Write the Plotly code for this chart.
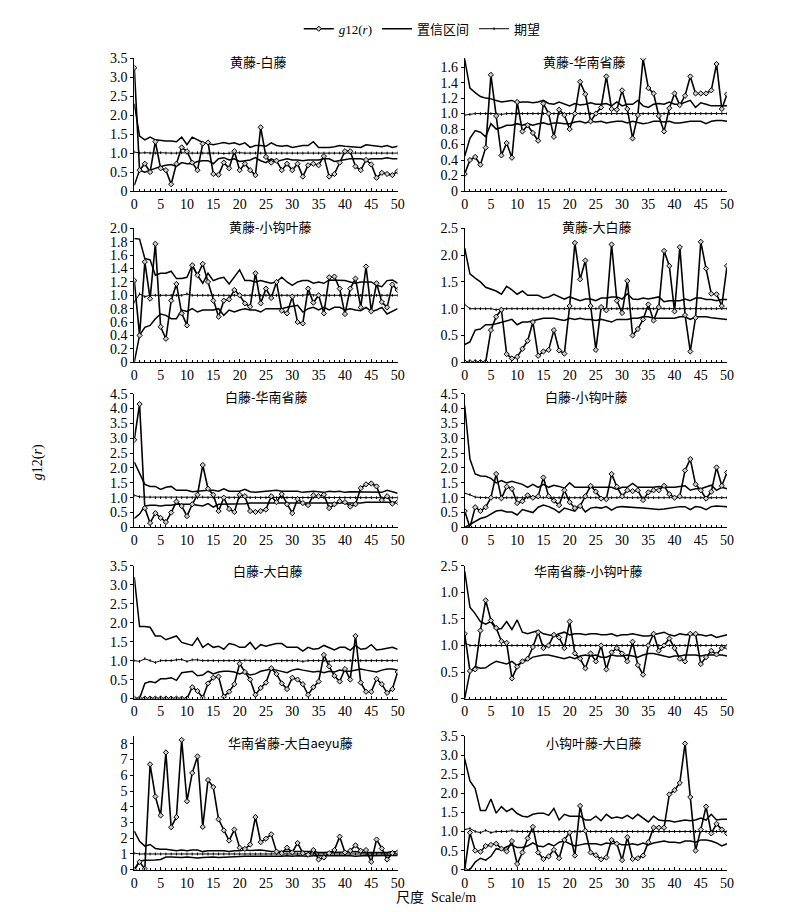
import plotly.graph_objects as go

# ---------------- data ----------------
SCALE_R = [0, 1, 2, 3, 4, 5, 6, 7, 8, 9, 10, 11, 12, 13, 14, 15, 16, 17, 18, 19, 20,
           21, 22, 23, 24, 25, 26, 27, 28, 29, 30, 31, 32, 33, 34, 35, 36, 37, 38, 39, 40,
           41, 42, 43, 44, 45, 46, 47, 48, 49, 50]
X_TICKS = [0, 5, 10, 15, 20, 25, 30, 35, 40, 45, 50]

TITLES = ["黄藤-白藤", "黄藤-华南省藤", "黄藤-小钩叶藤", "黄藤-大白藤", "白藤-华南省藤",
          "白藤-小钩叶藤", "白藤-大白藤", "华南省藤-小钩叶藤", "华南省藤-大白aeyu藤", "小钩叶藤-大白藤"]

# 1 黄藤-白藤
g_1 = [3.25, 0.55, 0.72, 0.5, 1.3, 0.6, 0.55, 0.18, 0.72, 1.15,
       1.05, 0.75, 0.55, 1.25, 1.28, 0.45, 0.43, 0.75, 0.6, 1.05,
       0.55, 0.72, 0.55, 0.42, 1.68, 0.9, 0.75, 0.8, 0.55, 0.72,
       0.55, 0.72, 0.38, 0.68, 0.72, 0.68, 0.92, 0.38, 0.45, 0.75,
       1.05, 1.05, 0.65, 0.55, 0.82, 0.7, 0.35, 0.48, 0.45, 0.42, 0.52]
up_1 = [2.3, 1.45, 1.35, 1.42, 1.35, 1.33, 1.32, 1.32, 1.3, 1.42,
        1.22, 1.42, 1.35, 1.28, 1.25, 1.22, 1.25, 1.28, 1.25, 1.27,
        1.22, 1.27, 1.15, 1.2, 1.2, 1.18, 1.27, 1.2, 1.18, 1.2,
        1.15, 1.17, 1.2, 1.2, 1.3, 1.15, 1.15, 1.15, 1.17, 1.2,
        1.18, 1.17, 1.15, 1.15, 1.22, 1.2, 1.18, 1.17, 1.2, 1.15, 1.18]
lo_1 = [0.15, 0.55, 0.5, 0.55, 0.62, 0.65, 0.68, 0.7, 0.65, 0.75,
        0.72, 0.72, 0.78, 0.8, 0.8, 0.72, 0.85, 0.88, 0.82, 0.85,
        0.78, 0.8, 0.82, 0.88, 0.8, 0.75, 0.85, 0.78, 0.82, 0.85,
        0.82, 0.82, 0.8, 0.82, 0.82, 0.82, 0.85, 0.85, 0.78, 0.8,
        0.82, 0.85, 0.85, 0.85, 0.82, 0.85, 0.85, 0.85, 0.88, 0.85, 0.85]
ex_1 = [1.03, 1.0, 1.01, 1.0, 1.0, 1.01, 1.0, 1.0, 1.0, 1.01,
        1.0, 1.0, 1.01, 1.0, 1.0, 1.0, 1.0, 0.99, 1.0, 1.0,
        1.01, 1.0, 1.0, 1.0, 1.0, 1.0, 1.01, 1.0, 1.0, 1.0,
        1.0, 1.0, 1.0, 1.01, 1.0, 1.0, 1.0, 1.0, 1.0, 1.0,
        1.0, 1.0, 1.01, 1.0, 1.0, 1.0, 1.0, 1.0, 1.0, 1.0, 1.0]

# 2 黄藤-华南省藤
g_2 = [0.22, 0.4, 0.44, 0.34, 0.56, 1.5, 0.97, 0.46, 0.62, 0.43,
       1.15, 0.77, 0.85, 0.75, 0.65, 1.13, 1.0, 0.7, 1.05, 0.98,
       0.8, 1.0, 1.41, 1.25, 0.9, 1.0, 1.08, 1.48, 1.06, 1.05,
       1.3, 1.06, 0.68, 0.98, 1.71, 1.33, 1.26, 0.97, 0.77, 1.07,
       1.26, 1.11, 1.23, 1.48, 1.26, 1.26, 1.26, 1.3, 1.64, 1.06, 1.25]
up_2 = [1.7, 1.33, 1.27, 1.22, 1.2, 1.19, 1.17, 1.15, 1.16, 1.17,
        1.14, 1.15, 1.15, 1.14, 1.15, 1.17, 1.13, 1.12, 1.15, 1.12,
        1.1, 1.13, 1.11, 1.12, 1.14, 1.12, 1.12, 1.13, 1.1, 1.15,
        1.1, 1.12, 1.12, 1.17, 1.1, 1.08, 1.12, 1.13, 1.12, 1.15,
        1.12, 1.12, 1.15, 1.17, 1.08, 1.14, 1.12, 1.1, 1.1, 1.1, 1.1]
lo_2 = [0.45, 0.68, 0.78, 0.76, 0.7, 0.87, 0.8, 0.82, 0.85, 0.85,
        0.87, 0.85, 0.87, 0.85, 0.87, 0.88, 0.86, 0.88, 0.88, 0.87,
        0.87, 0.89, 0.9, 0.88, 0.9, 0.89, 0.9, 0.88, 0.89, 0.9,
        0.9, 0.88, 0.9, 0.88, 0.87, 0.88, 0.9, 0.9, 0.89, 0.9,
        0.88, 0.88, 0.89, 0.9, 0.9, 0.9, 0.87, 0.9, 0.91, 0.91, 0.9]
ex_2 = [0.98, 0.99, 1.0, 1.0, 1.0, 1.0, 1.0, 0.99, 1.0, 1.0,
        1.0, 1.0, 1.0, 1.0, 1.0, 1.0, 1.0, 1.0, 1.0, 1.0,
        1.0, 1.0, 1.0, 1.0, 1.0, 1.0, 1.0, 1.0, 1.0, 1.0,
        1.0, 1.0, 1.0, 1.0, 1.0, 1.0, 1.0, 1.0, 1.0, 1.0,
        1.0, 1.0, 1.0, 1.0, 1.0, 1.0, 1.0, 1.0, 1.0, 1.0, 1.0]

# 3 黄藤-小钩叶藤
g_3 = [1.22, 0.4, 1.5, 0.95, 1.77, 0.53, 0.35, 0.92, 1.17, 0.73,
       0.55, 1.45, 1.3, 1.47, 1.2, 0.92, 0.68, 0.92, 0.94, 1.08,
       1.0, 0.88, 0.83, 1.33, 0.88, 1.1, 0.96, 1.2, 0.77, 0.73,
       0.98, 0.6, 0.58, 1.1, 0.89, 1.0, 0.73, 1.27, 1.28, 1.1,
       0.72, 1.1, 1.25, 0.82, 1.43, 0.76, 1.18, 0.9, 0.82, 1.16, 1.08]
up_3 = [1.85, 1.84, 1.55, 1.53, 1.3, 1.33, 1.33, 1.36, 1.25, 1.25,
        1.27, 1.45, 1.3, 1.18, 1.33, 1.22, 1.25, 1.27, 1.17, 1.27,
        1.38, 1.22, 1.22, 1.2, 1.22, 1.2, 1.18, 1.2, 1.27, 1.2,
        1.15, 1.2, 1.22, 1.22, 1.18, 1.2, 1.18, 1.23, 1.23, 1.23,
        1.22, 1.2, 1.18, 1.2, 1.2, 1.2, 1.15, 1.13, 1.22, 1.23, 1.18]
lo_3 = [0.0, 0.4, 0.52, 0.55, 0.65, 0.72, 0.7, 0.65, 0.65, 0.78,
        0.76, 0.8, 0.75, 0.78, 0.78, 0.78, 0.8, 0.7, 0.78, 0.75,
        0.78, 0.8, 0.78, 0.78, 0.75, 0.8, 0.8, 0.8, 0.8, 0.82,
        0.84, 0.85, 0.75, 0.8, 0.82, 0.78, 0.82, 0.78, 0.82, 0.82,
        0.78, 0.8, 0.78, 0.77, 0.82, 0.76, 0.78, 0.82, 0.72, 0.76, 0.8]
ex_3 = [0.9, 1.02, 0.98, 1.0, 1.0, 1.0, 1.0, 1.0, 1.0, 1.0,
        1.02, 1.0, 1.0, 1.0, 1.0, 1.0, 1.0, 1.0, 0.99, 1.0,
        1.0, 1.0, 1.0, 1.0, 1.0, 1.0, 1.0, 1.0, 1.0, 1.0,
        1.0, 1.0, 1.0, 1.01, 1.0, 1.0, 1.0, 1.0, 1.0, 1.0,
        1.0, 1.0, 1.0, 1.0, 1.0, 1.0, 1.0, 1.0, 1.0, 1.0, 1.0]

# 4 黄藤-大白藤
g_4 = [0, 0, 0, 0, 0, 0.6, 0.85, 0.98, 0.15, 0.07,
       0.1, 0.25, 0.4, 0.75, 0.12, 0.2, 0.23, 0.6, 0.22, 0.16,
       1.05, 2.23, 1.55, 1.9, 1.05, 0.23, 1.03, 0.97, 2.2, 1.15,
       0.92, 1.52, 0.5, 0.62, 0.8, 1.08, 0.78, 1.03, 2.08, 1.8,
       0.95, 2.15, 0.88, 0.2, 0.83, 2.25, 1.75, 1.28, 1.27, 1.05, 1.8]
up_4 = [2.13, 1.65, 1.57, 1.5, 1.4, 1.37, 1.33, 1.27, 1.42, 1.35,
        1.27, 1.33, 1.25, 1.25, 1.25, 1.2, 1.22, 1.27, 1.22, 1.18,
        1.22, 1.18, 1.15, 1.18, 1.18, 1.15, 1.2, 1.2, 1.22, 1.22,
        1.18, 1.28, 1.18, 1.17, 1.2, 1.18, 1.2, 1.22, 1.13, 1.15,
        1.15, 1.15, 1.18, 1.15, 1.2, 1.2, 1.17, 1.17, 1.15, 1.17, 1.17]
lo_4 = [0.33, 0.38, 0.6, 0.62, 0.7, 0.7, 0.72, 0.75, 0.78, 0.8,
        0.7, 0.75, 0.75, 0.77, 0.8, 0.82, 0.82, 0.82, 0.8, 0.78,
        0.82, 0.8, 0.82, 0.8, 0.8, 0.78, 0.8, 0.78, 0.75, 0.8,
        0.8, 0.8, 0.82, 0.82, 0.85, 0.85, 0.82, 0.82, 0.82, 0.83,
        0.82, 0.85, 0.85, 0.8, 0.85, 0.85, 0.85, 0.83, 0.82, 0.8, 0.8]
ex_4 = [1.08, 1.0, 1.0, 1.0, 1.0, 1.0, 0.98, 1.0, 1.0, 1.0,
        1.0, 1.0, 1.0, 1.0, 1.0, 1.0, 1.0, 1.0, 1.0, 1.0,
        1.0, 1.0, 1.0, 1.0, 1.0, 1.0, 1.0, 1.0, 1.0, 1.0,
        1.0, 1.0, 1.0, 1.0, 1.0, 1.0, 1.0, 1.0, 1.0, 1.0,
        1.0, 1.0, 1.0, 1.0, 1.0, 1.0, 1.0, 1.0, 1.0, 1.0, 1.0]

# 5 白藤-华南省藤
g_5 = [2.95, 4.15, 0.65, 0.15, 0.48, 0.32, 0.18, 0.5, 0.87, 0.72,
       0.38, 0.78, 1.1, 2.1, 1.3, 1.1, 0.55, 1.0, 0.62, 0.52,
       1.1, 1.05, 0.55, 0.52, 0.55, 0.6, 1.05, 0.85, 1.12, 0.78,
       0.48, 0.95, 0.82, 0.75, 1.08, 1.05, 1.1, 0.65, 0.78, 0.88,
       0.85, 0.7, 0.78, 1.32, 1.45, 1.48, 1.38, 0.92, 1.05, 0.8, 0.85]
up_5 = [2.2, 1.85, 1.45, 1.38, 1.38, 1.28, 1.35, 1.38, 1.25, 1.25,
        1.25, 1.2, 1.22, 1.25, 1.25, 1.25, 1.22, 1.3, 1.22, 1.22,
        1.22, 1.28, 1.2, 1.18, 1.2, 1.2, 1.22, 1.25, 1.22, 1.22,
        1.2, 1.22, 1.18, 1.2, 1.22, 1.2, 1.18, 1.22, 1.2, 1.22,
        1.18, 1.2, 1.2, 1.18, 1.18, 1.2, 1.18, 1.18, 1.25, 1.2, 1.15]
lo_5 = [0.3, 0.45, 0.72, 0.75, 0.75, 0.72, 0.75, 0.75, 0.78, 0.78,
        0.8, 0.78, 0.75, 0.72, 0.8, 0.68, 0.78, 0.78, 0.8, 0.8,
        0.8, 0.8, 0.82, 0.82, 0.82, 0.8, 0.8, 0.82, 0.82, 0.82,
        0.8, 0.8, 0.8, 0.82, 0.82, 0.8, 0.8, 0.82, 0.82, 0.82,
        0.8, 0.82, 0.82, 0.82, 0.85, 0.85, 0.85, 0.85, 0.85, 0.85, 0.85]
ex_5 = [1.08, 1.03, 1.02, 1.02, 1.0, 1.0, 1.0, 1.0, 1.0, 1.0,
        1.0, 1.0, 1.0, 1.02, 1.0, 1.0, 1.0, 1.0, 1.0, 1.0,
        1.0, 1.0, 1.0, 1.0, 1.0, 1.0, 1.0, 1.0, 1.0, 1.0,
        1.0, 1.0, 1.0, 1.0, 1.0, 1.0, 1.0, 1.0, 1.0, 1.0,
        1.0, 1.0, 1.0, 1.0, 1.0, 1.0, 1.0, 1.0, 1.0, 1.0, 1.0]

# 6 白藤-小钩叶藤
g_6 = [0.55, 0.0, 0.68, 0.55, 0.68, 1.0, 1.8, 0.98, 1.37, 1.3,
       0.82, 0.88, 1.08, 1.0, 1.05, 1.68, 1.05, 0.9, 0.75, 1.25,
       0.85, 0.65, 0.72, 1.05, 1.4, 1.2, 0.97, 0.95, 1.8, 1.37,
       1.05, 1.25, 1.22, 1.25, 0.92, 1.18, 1.25, 1.25, 1.4, 1.12,
       1.0, 1.05, 1.92, 2.3, 1.45, 1.25, 0.97, 1.2, 2.02, 1.4, 1.85]
up_6 = [4.1, 2.3, 1.8, 1.73, 1.72, 1.65, 1.5, 1.58, 1.5, 1.55,
        1.5, 1.45, 1.35, 1.45, 1.35, 1.45, 1.35, 1.42, 1.38, 1.32,
        1.5, 1.35, 1.35, 1.35, 1.35, 1.35, 1.35, 1.33, 1.35, 1.28,
        1.35, 1.35, 1.48, 1.35, 1.35, 1.35, 1.35, 1.38, 1.35, 1.35,
        1.35, 1.38, 1.4, 1.25, 1.3, 1.3, 1.35, 1.42, 1.25, 1.35, 1.3]
lo_6 = [0.0, 0.1, 0.2, 0.3, 0.35, 0.45, 0.55, 0.58, 0.52, 0.52,
        0.42, 0.6, 0.55, 0.5, 0.68, 0.75, 0.7, 0.62, 0.5, 0.65,
        0.6, 0.55, 0.75, 0.52, 0.65, 0.68, 0.65, 0.7, 0.58, 0.68,
        0.7, 0.68, 0.68, 0.66, 0.65, 0.63, 0.62, 0.6, 0.62, 0.65,
        0.68, 0.7, 0.7, 0.6, 0.7, 0.68, 0.6, 0.7, 0.72, 0.7, 0.7]
ex_6 = [1.15, 1.1, 1.02, 1.0, 1.0, 1.0, 1.0, 1.0, 1.0, 1.0,
        1.0, 1.0, 1.0, 1.0, 1.0, 1.0, 1.0, 1.0, 1.0, 1.0,
        1.0, 1.0, 1.0, 1.0, 1.0, 1.0, 1.0, 1.0, 1.0, 1.0,
        1.0, 1.0, 1.0, 1.0, 1.0, 1.0, 1.0, 1.0, 1.0, 1.02,
        1.0, 1.0, 1.0, 1.0, 1.0, 1.0, 1.0, 1.0, 1.0, 1.0, 1.0]

# 7 白藤-大白藤
g_7 = [0, 0, 0, 0, 0, 0, 0, 0, 0, 0,
       0, 0.3, 0.2, 0.02, 0.4, 0.55, 0.58, 0.05, 0.18, 0.38,
       0.92, 0.7, 0.5, 0.1, 0.28, 0.42, 0.8, 0.65, 0.4, 0.25,
       0.55, 0.5, 0.38, 0.1, 0.3, 0.45, 1.15, 0.85, 0.6, 0.45,
       0.78, 0.5, 1.65, 0.42, 0.18, 0.18, 0.52, 0.38, 0.15, 0.25, 0.7]
up_7 = [3.2, 1.9, 1.9, 1.88, 1.65, 1.65, 1.55, 1.6, 1.65, 1.48,
        1.45, 1.4, 1.6, 1.35, 1.45, 1.35, 1.38, 1.3, 1.45, 1.42,
        1.35, 1.35, 1.48, 1.3, 1.42, 1.38, 1.42, 1.45, 1.45, 1.35,
        1.35, 1.35, 1.25, 1.35, 1.3, 1.32, 1.4, 1.35, 1.28, 1.35,
        1.35, 1.27, 1.4, 1.3, 1.32, 1.42, 1.28, 1.3, 1.32, 1.35, 1.3]
lo_7 = [0.0, 0.0, 0.4, 0.45, 0.42, 0.52, 0.52, 0.55, 0.48, 0.68,
        0.7, 0.72, 0.6, 0.62, 0.72, 0.65, 0.7, 0.72, 0.72, 0.7,
        0.65, 0.7, 0.62, 0.65, 0.72, 0.75, 0.78, 0.75, 0.72, 0.68,
        0.75, 0.78, 0.75, 0.72, 0.7, 0.72, 0.68, 0.72, 0.7, 0.75,
        0.72, 0.72, 0.75, 0.78, 0.75, 0.72, 0.7, 0.75, 0.78, 0.78, 0.75]
ex_7 = [1.0, 0.98, 1.05, 1.0, 0.95, 1.0, 1.0, 1.0, 1.02, 1.03,
        0.98, 1.02, 1.02, 1.0, 1.0, 1.0, 0.99, 1.0, 1.0, 1.0,
        1.0, 1.01, 1.0, 1.0, 1.0, 1.0, 1.0, 1.0, 1.0, 1.0,
        1.0, 1.0, 0.98, 1.0, 1.0, 1.0, 1.0, 0.98, 1.0, 1.0,
        1.0, 1.0, 1.0, 1.0, 1.0, 1.0, 1.0, 1.0, 1.0, 1.0, 1.0]

# 8 华南省藤-小钩叶藤
g_8 = [1.22, 0.52, 0.55, 1.28, 1.85, 1.47, 1.33, 1.08, 1.05, 0.38,
       0.6, 0.7, 0.75, 0.97, 1.25, 0.95, 1.0, 1.2, 1.15, 0.95,
       1.45, 0.85, 0.75, 0.57, 0.85, 0.7, 1.0, 0.55, 0.87, 0.95,
       0.85, 0.7, 1.07, 0.63, 0.45, 1.0, 1.22, 0.9, 1.0, 1.13,
       0.95, 0.75, 0.7, 1.22, 1.22, 0.65, 0.78, 0.9, 0.83, 0.95, 0.97]
up_8 = [2.4, 1.72, 1.6, 1.45, 1.4, 1.45, 1.3, 1.32, 1.45, 1.3,
        1.48, 1.25, 1.22, 1.25, 1.28, 1.22, 1.2, 1.18, 1.22, 1.25,
        1.2, 1.22, 1.22, 1.2, 1.22, 1.22, 1.2, 1.2, 1.22, 1.18,
        1.2, 1.2, 1.22, 1.2, 1.18, 1.18, 1.2, 1.22, 1.25, 1.2,
        1.18, 1.22, 1.2, 1.2, 1.2, 1.2, 1.18, 1.2, 1.15, 1.18, 1.2]
lo_8 = [0.0, 0.5, 0.6, 0.57, 0.58, 0.65, 0.7, 0.68, 0.65, 0.7,
        0.62, 0.7, 0.72, 0.78, 0.8, 0.82, 0.82, 0.8, 0.78, 0.75,
        0.78, 0.75, 0.8, 0.82, 0.8, 0.82, 0.78, 0.78, 0.82, 0.8,
        0.8, 0.82, 0.8, 0.78, 0.82, 0.85, 0.85, 0.82, 0.8, 0.78,
        0.8, 0.8, 0.82, 0.82, 0.82, 0.8, 0.82, 0.82, 0.82, 0.82, 0.8]
ex_8 = [1.05, 1.0, 1.0, 1.0, 1.0, 1.0, 1.0, 1.0, 1.0, 1.0,
        1.0, 1.0, 1.0, 1.0, 1.0, 1.0, 1.0, 1.0, 1.0, 1.0,
        1.0, 1.0, 1.0, 1.0, 1.0, 1.0, 1.0, 1.0, 1.0, 1.0,
        1.0, 1.0, 1.0, 1.0, 1.0, 1.0, 1.0, 1.0, 1.0, 1.0,
        1.0, 1.0, 1.0, 1.0, 1.0, 1.0, 1.0, 1.0, 1.0, 1.0, 1.0]

# 9 华南省藤-大白aeyu藤
g_9 = [0.0, 0.5, 0.05, 6.7, 4.65, 3.45, 7.45, 2.7, 3.35, 8.25,
       4.35, 6.15, 7.2, 2.72, 5.7, 5.25, 3.2, 2.5, 1.85, 2.55,
       1.4, 1.32, 1.6, 3.35, 1.75, 1.97, 2.25, 1.15, 1.05, 1.4,
       1.1, 1.7, 1.05, 0.95, 1.25, 0.65, 0.78, 1.05, 1.25, 2.1,
       1.1, 1.2, 1.55, 1.2, 1.25, 0.5, 1.92, 1.35, 0.65, 1.05, 1.1]
up_9 = [2.45, 1.8, 1.5, 1.6, 1.35, 1.3, 1.3, 1.25, 1.2, 1.25,
        1.2, 1.25, 1.25, 1.15, 1.2, 1.2, 1.2, 1.2, 1.15, 1.2,
        1.2, 1.25, 1.22, 1.25, 1.25, 1.2, 1.15, 1.15, 1.15, 1.15,
        1.12, 1.15, 1.12, 1.12, 1.15, 1.1, 1.1, 1.1, 1.12, 1.1,
        1.1, 1.12, 1.15, 1.1, 1.1, 1.12, 1.1, 1.1, 1.1, 1.15, 1.12]
lo_9 = [0.0, 0.55, 0.6, 0.6, 0.62, 0.65, 0.8, 0.8, 0.78, 0.78,
        0.8, 0.78, 0.75, 0.78, 0.8, 0.8, 0.78, 0.8, 0.82, 0.8,
        0.85, 0.85, 0.85, 0.85, 0.82, 0.85, 0.85, 0.85, 0.85, 0.88,
        0.85, 0.88, 0.85, 0.85, 0.88, 0.88, 0.88, 0.9, 0.88, 0.9,
        0.88, 0.88, 0.85, 0.88, 0.9, 0.88, 0.9, 0.9, 0.9, 0.9, 0.9]
ex_9 = [1.05, 1.0, 1.0, 1.0, 1.0, 1.0, 1.0, 1.0, 1.0, 1.0,
        1.0, 1.0, 1.0, 1.0, 1.0, 1.0, 1.0, 1.0, 1.0, 1.0,
        1.0, 1.0, 1.0, 1.0, 1.0, 1.0, 1.0, 1.0, 1.0, 1.0,
        1.0, 1.0, 1.0, 1.0, 1.0, 1.0, 1.0, 1.0, 1.0, 1.0,
        1.0, 1.0, 1.0, 1.0, 1.0, 1.0, 1.0, 1.0, 1.0, 1.0, 1.0]

# 10 小钩叶藤-大白藤
g_10 = [0.0, 0.97, 0.5, 0.47, 0.62, 0.65, 0.68, 0.55, 0.48, 0.75,
        0.15, 0.45, 0.82, 1.12, 0.45, 0.28, 0.35, 0.52, 0.3, 0.78,
        0.97, 0.37, 1.67, 1.02, 0.45, 0.38, 0.27, 0.32, 0.78, 0.68,
        0.25, 0.85, 0.28, 0.3, 0.37, 0.72, 1.1, 1.1, 1.1, 1.97,
        2.08, 2.27, 3.3, 1.9, 0.5, 1.05, 1.65, 0.95, 1.2, 1.05, 0.95]
up_10 = [2.9, 2.32, 2.12, 1.55, 1.55, 1.85, 1.48, 1.65, 1.52, 1.6,
         1.47, 1.4, 1.38, 1.45, 1.48, 1.48, 1.42, 1.6, 1.3, 1.45,
         1.4, 1.4, 1.4, 1.3, 1.3, 1.4, 1.28, 1.45, 1.35, 1.38,
         1.35, 1.42, 1.33, 1.45, 1.35, 1.25, 1.4, 1.3, 1.28, 1.28,
         1.25, 1.28, 1.3, 1.28, 1.3, 1.35, 1.3, 1.45, 1.3, 1.32, 1.32]
lo_10 = [0.0, 0.0, 0.2, 0.3, 0.25, 0.35, 0.55, 0.52, 0.6, 0.65,
         0.58, 0.58, 0.62, 0.7, 0.62, 0.6, 0.68, 0.62, 0.72, 0.75,
         0.68, 0.62, 0.65, 0.68, 0.68, 0.68, 0.65, 0.7, 0.68, 0.7,
         0.65, 0.65, 0.68, 0.65, 0.7, 0.65, 0.7, 0.72, 0.75, 0.72,
         0.72, 0.7, 0.75, 0.75, 0.72, 0.78, 0.78, 0.75, 0.7, 0.62, 0.68]
ex_10 = [1.05, 1.08, 1.0, 0.97, 1.03, 0.97, 1.0, 1.0, 1.0, 1.02,
         1.0, 1.0, 1.0, 1.0, 1.0, 1.0, 1.0, 1.0, 1.0, 1.0,
         1.0, 1.0, 1.0, 1.0, 1.0, 1.0, 1.0, 1.0, 1.0, 1.0,
         1.0, 1.0, 1.0, 1.0, 1.0, 1.0, 1.0, 1.0, 1.0, 1.0,
         1.0, 1.0, 1.0, 1.0, 1.0, 1.0, 1.0, 1.0, 1.0, 1.0, 1.0]

# y tick labels per panel
YT_1 = ["0", "0.5", "1.0", "1.5", "2.0", "2.5", "3.0", "3.5"]
YT_2 = ["0", "0.2", "0.4", "0.6", "0.8", "1.0", "1.2", "1.4", "1.6"]
YT_3 = ["0", "0.2", "0.4", "0.6", "0.8", "1.0", "1.2", "1.4", "1.6", "1.8", "2.0"]
YT_4 = ["0", "0.5", "1.0", "1.5", "2.0", "2.5"]
YT_5 = ["0", "0.5", "1.0", "1.5", "2.0", "2.5", "3.0", "3.5", "4.0", "4.5"]
YT_6 = YT_5
YT_7 = YT_1
YT_8 = ["0", "0.5", "1.0", "1.5", "1.0", "2.5"]
YT_9 = ["0", "1", "2", "3", "4", "5", "6", "7", "8"]
YT_10 = YT_1
YV_1 = [0, 0.5, 1.0, 1.5, 2.0, 2.5, 3.0, 3.5]
YV_2 = [0, 0.2, 0.4, 0.6, 0.8, 1.0, 1.2, 1.4, 1.6]
YV_3 = [0, 0.2, 0.4, 0.6, 0.8, 1.0, 1.2, 1.4, 1.6, 1.8, 2.0]
YV_4 = [0, 0.5, 1.0, 1.5, 2.0, 2.5]
YV_5 = [0, 0.5, 1.0, 1.5, 2.0, 2.5, 3.0, 3.5, 4.0, 4.5]
YV_9 = [0, 1, 2, 3, 4, 5, 6, 7, 8]

G = [g_1, g_2, g_3, g_4, g_5, g_6, g_7, g_8, g_9, g_10]
UP = [up_1, up_2, up_3, up_4, up_5, up_6, up_7, up_8, up_9, up_10]
LO = [lo_1, lo_2, lo_3, lo_4, lo_5, lo_6, lo_7, lo_8, lo_9, lo_10]
EX = [ex_1, ex_2, ex_3, ex_4, ex_5, ex_6, ex_7, ex_8, ex_9, ex_10]
YV = [YV_1, YV_2, YV_3, YV_4, YV_5, YV_5, YV_1, YV_4, YV_9, YV_1]
YT = [YT_1, YT_2, YT_3, YT_4, YT_5, YT_6, YT_7, YT_8, YT_9, YT_10]

bad = [(i + 1, len(G[i]), len(UP[i]), len(LO[i]), len(EX[i])) for i in range(10)
       if not (len(G[i]) == len(UP[i]) == len(LO[i]) == len(EX[i]) == 51)]
assert not bad, str(bad)

# ---------------- layout helpers ----------------
W, H = 800, 912
COLS = [(124, 391), (459, 725)]
ROWS = [(44, 179), (217, 353), (385, 521), (560, 695), (733, 869)]
YTOP = [3.5, 1.714, 2.0, 2.5, 4.5, 4.5, 3.5, 2.5, 8.5, 3.5]
TITLE_POS = [(250, 47), (580, 47), (262, 215), (593, 215), (258, 388),
             (583, 388), (260, 565), (585, 565), (282, 740), (590, 740)]

SERIF = "Liberation Serif, Times New Roman, serif"
CJK = "Noto Sans CJK SC"

fig = go.Figure()
layout = dict(width=W, height=H, margin=dict(l=0, r=0, t=0, b=0),
              paper_bgcolor="white", plot_bgcolor="white",
              showlegend=True)
annotations = []

for i in range(10):
    r, c = divmod(i, 2)
    n = "" if i == 0 else str(i + 1)
    xa, ya = "x" + n, "y" + n
    x0, x1 = COLS[c]
    t, b = ROWS[r]
    first = i == 0
    fig.add_trace(go.Scatter(
        x=SCALE_R, y=UP[i], xaxis=xa, yaxis=ya, mode="lines",
        name="置信区间", legendgroup="ci", showlegend=first, legendrank=2,
        line=dict(color="black", width=1.5)))
    fig.add_trace(go.Scatter(
        x=SCALE_R, y=LO[i], xaxis=xa, yaxis=ya, mode="lines",
        name="置信区间", legendgroup="ci", showlegend=False,
        line=dict(color="black", width=1.5)))
    fig.add_trace(go.Scatter(
        x=SCALE_R, y=EX[i], xaxis=xa, yaxis=ya, mode="lines+markers",
        name="期望", legendgroup="ex", showlegend=first, legendrank=3,
        line=dict(color="black", width=1),
        marker=dict(symbol="line-ns", size=2, line=dict(color="black", width=1))))
    fig.add_trace(go.Scatter(
        x=SCALE_R, y=G[i], xaxis=xa, yaxis=ya, mode="lines+markers",
        name="<i>g</i>12(<i>r</i>)", legendgroup="g", showlegend=first, legendrank=1,
        line=dict(color="black", width=1.6),
        marker=dict(symbol="diamond", size=4, color="#cccccc",
                    line=dict(color="black", width=1))))

    layout["xaxis" + n] = dict(
        domain=[x0 / W, x1 / W], anchor=ya, range=[0, 50],
        tickmode="array", tickvals=X_TICKS, ticktext=[str(v) for v in X_TICKS],
        ticks="inside", ticklen=3, tickcolor="black",
        minor=dict(tickmode="linear", tick0=0, dtick=1, ticks="inside",
                   ticklen=2, tickcolor="black"),
        showline=True, linecolor="black", linewidth=1, showgrid=False,
        zeroline=False, tickfont=dict(family=SERIF, size=14, color="black"),
        fixedrange=True)
    layout["yaxis" + n] = dict(
        domain=[1 - b / H, 1 - t / H], anchor=xa, range=[0, YTOP[i]],
        tickmode="array", tickvals=YV[i], ticktext=YT[i],
        ticks="outside", ticklen=3, tickcolor="black",
        showline=True, linecolor="black", linewidth=1, showgrid=False,
        zeroline=False, tickfont=dict(family=SERIF, size=14, color="black"),
        fixedrange=True)
    tx, ty = TITLE_POS[i]
    annotations.append(dict(
        text=TITLES[i], x=tx / W, y=1 - ty / H, xref="paper", yref="paper",
        showarrow=False, xanchor="center", yanchor="middle",
        font=dict(family=CJK, size=13, color="black")))

annotations.append(dict(
    text="<i>g</i>12(<i>r</i>)", x=26 / W, y=1 - 455 / H, xref="paper", yref="paper",
    showarrow=False, textangle=-90, xanchor="center", yanchor="middle",
    font=dict(family=SERIF, size=14, color="black")))
annotations.append(dict(
    text="尺度  Scale/m", x=430 / W, y=1 - 897 / H, xref="paper", yref="paper",
    showarrow=False, xanchor="center", yanchor="middle",
    font=dict(family=SERIF + ", " + CJK, size=14, color="black")))

layout["annotations"] = annotations
layout["legend"] = dict(
    orientation="h", x=0.52, xanchor="center", y=1 - 14 / H, yanchor="middle",
    font=dict(family=SERIF + ", " + CJK, size=13, color="black"),
    itemwidth=30, bgcolor="rgba(0,0,0,0)", tracegroupgap=0)

fig.update_layout(**layout)
fig.write_html("out.html")
